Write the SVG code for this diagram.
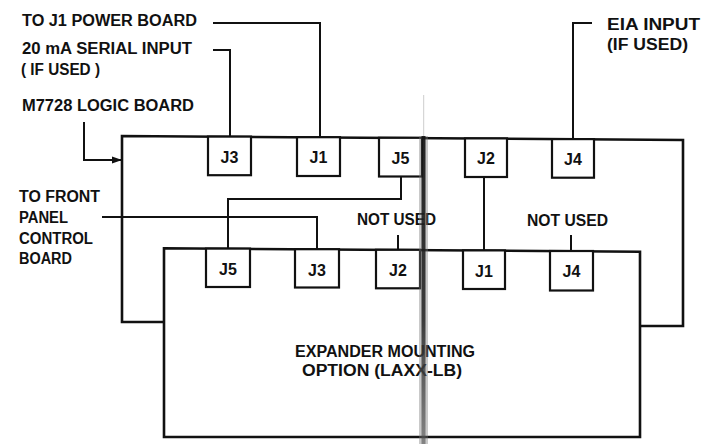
<svg xmlns="http://www.w3.org/2000/svg" width="720" height="444" viewBox="0 0 720 444">
  <style>
    .board { fill: none; stroke: #111; stroke-width: 2.6; stroke-linejoin: miter; }
    .jbox { fill: #fff; stroke: #111; stroke-width: 2.2; }
    .wire { fill: none; stroke: #111; stroke-width: 2; }
    .lbl { font-family: "Liberation Sans", Arial, sans-serif; font-weight: bold; font-size: 16px; fill: #111; }
    .jl { font-family: "Liberation Sans", Arial, sans-serif; font-weight: bold; font-size: 16px; fill: #111; text-anchor: middle; }
  </style>
  <defs>
    <marker id="arrow" markerWidth="10" markerHeight="8" refX="9" refY="4" orient="auto" markerUnits="userSpaceOnUse">
      <path d="M0,0.5 L10,4 L0,7.5 Z" fill="#111"/>
    </marker>
    <linearGradient id="foldGrad" x1="0" y1="0" x2="0" y2="1">
      <stop offset="0" stop-color="#111" stop-opacity="0.9"/>
      <stop offset="0.6" stop-color="#222" stop-opacity="0.85"/>
      <stop offset="1" stop-color="#555" stop-opacity="0.6"/>
    </linearGradient>
  </defs>
  <rect width="720" height="444" fill="#fff"/>

  <!-- M7728 logic board (upper, partly behind expander) -->
  <g id="logic-board">
    <path class="board" d="M164,322 H122 V136 L683,140 V326 H640"/>
  </g>

  <!-- Expander mounting option board -->
  <g id="expander-board">
    <path class="board" d="M164,248.3 L640,251.7 V437 H164 Z" fill="#fff"/>
    <text class="lbl" x="295" y="357" textLength="180" lengthAdjust="spacingAndGlyphs">EXPANDER MOUNTING</text>
    <text class="lbl" x="302" y="376" textLength="160" lengthAdjust="spacingAndGlyphs">OPTION (LAXX-LB)</text>
  </g>

  <!-- Upper connectors (logic board) -->
  <g id="upper-J3"><rect class="jbox" x="208" y="136.6" width="43" height="38.6"/><text class="jl" x="229.5" y="162.5">J3</text></g>
  <g id="upper-J1"><rect class="jbox" x="297" y="137.2" width="43" height="38.8"/><text class="jl" x="318.5" y="163">J1</text></g>
  <g id="upper-J5"><rect class="jbox" x="379" y="137.8" width="43" height="38.7"/><text class="jl" x="400.5" y="163.5">J5</text></g>
  <g id="upper-J2"><rect class="jbox" x="465" y="138.4" width="42" height="38.6"/><text class="jl" x="486" y="164">J2</text></g>
  <g id="upper-J4"><rect class="jbox" x="552" y="139.1" width="42" height="38.6"/><text class="jl" x="573" y="164.5">J4</text></g>

  <!-- Lower connectors (expander) -->
  <g id="lower-J5"><rect class="jbox" x="206" y="248.6" width="44" height="38.4"/><text class="jl" x="228" y="275">J5</text></g>
  <g id="lower-J3"><rect class="jbox" x="295" y="249.2" width="44" height="38.3"/><text class="jl" x="317" y="275.5">J3</text></g>
  <g id="lower-J2"><rect class="jbox" x="376" y="249.8" width="44" height="38.5"/><text class="jl" x="398" y="276">J2</text></g>
  <g id="lower-J1"><rect class="jbox" x="463" y="250.4" width="42" height="38.6"/><text class="jl" x="484" y="276.5">J1</text></g>
  <g id="lower-J4"><rect class="jbox" x="550" y="251" width="43" height="39.5"/><text class="jl" x="571.5" y="277">J4</text></g>

  <!-- Labels -->
  <g id="labels">
    <text class="lbl" x="22" y="26" textLength="175" lengthAdjust="spacingAndGlyphs">TO J1 POWER BOARD</text>
    <text class="lbl" x="22" y="54" textLength="170" lengthAdjust="spacingAndGlyphs">20 mA SERIAL INPUT</text>
    <text class="lbl" x="21" y="75" textLength="79" lengthAdjust="spacingAndGlyphs">( IF USED )</text>
    <text class="lbl" x="22" y="111" textLength="172" lengthAdjust="spacingAndGlyphs">M7728 LOGIC BOARD</text>
    <text class="lbl" x="607" y="30" textLength="93" lengthAdjust="spacingAndGlyphs">EIA INPUT</text>
    <text class="lbl" x="607" y="50" textLength="81" lengthAdjust="spacingAndGlyphs">(IF USED)</text>
    <text class="lbl" x="19" y="202" textLength="81" lengthAdjust="spacingAndGlyphs">TO FRONT</text>
    <text class="lbl" x="19" y="223" textLength="49" lengthAdjust="spacingAndGlyphs">PANEL</text>
    <text class="lbl" x="19" y="244" textLength="74" lengthAdjust="spacingAndGlyphs">CONTROL</text>
    <text class="lbl" x="19" y="264" textLength="53" lengthAdjust="spacingAndGlyphs">BOARD</text>
    <text class="lbl" x="357" y="225" textLength="79" lengthAdjust="spacingAndGlyphs">NOT USED</text>
    <text class="lbl" x="527" y="226" textLength="81" lengthAdjust="spacingAndGlyphs">NOT USED</text>
  </g>

  <!-- Connectors -->
  <g id="connectors">
    <path class="wire" d="M213,23 H320 V137.2"/>
    <path class="wire" d="M213,50 H230 V136.6"/>
    <path class="wire" d="M84,122 V160 H121" marker-end="url(#arrow)"/>
    <path class="wire" d="M592,23 H573 V139"/>
    <path class="wire" d="M401,176.5 V199 H228 V248.6"/>
    <path class="wire" d="M102,217 H317 V249.2"/>
    <path class="wire" d="M484,177 V250.4"/>
    <path class="wire" d="M398,235 V249.8"/>
    <path class="wire" d="M571,235 V251"/>
  </g>

  <!-- Scan fold artefact -->
  <g id="scan-fold">
    <rect x="419" y="136" width="9" height="308" fill="#777" opacity="0.4"/>
    <rect x="421.5" y="136" width="4" height="308" fill="url(#foldGrad)"/>
    <rect x="423" y="95" width="1.2" height="41" fill="#bbb" opacity="0.6"/>
  </g>
</svg>
